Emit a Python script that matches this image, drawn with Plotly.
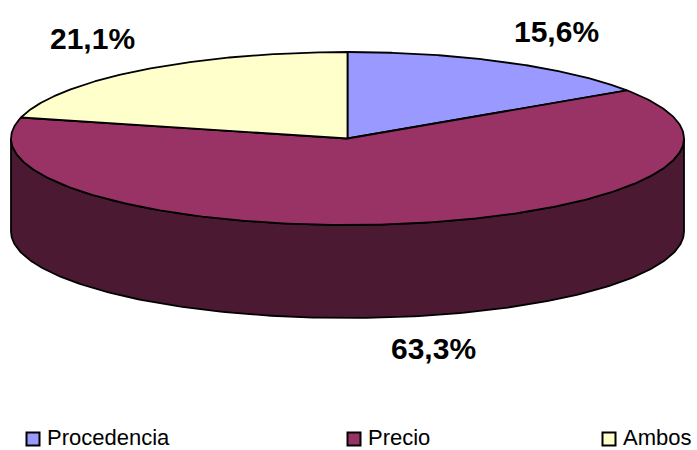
import numpy as np
import plotly.graph_objects as go

# ---- data ----
categories = ["Procedencia", "Precio", "Ambos"]
values = [15.6, 63.3, 21.1]
value_labels = ["15,6%", "63,3%", "21,1%"]

# ---- style ----
colors = ["#9999FF", "#993366", "#FFFFCC"]
W, H = 697, 450
CX, CY = 347.5, 138.5      # centre of top face (pixels)
RX, RY = 336.5, 86.5       # radii of top ellipse
DEPTH = 93                 # thickness of the pie
label_shift = [(51, 31), (28, -32), (-48, 32)]
legend_text_x = [46, 367, 622]
legend_y = 437.5
SQ = 13


def darker(hexcol, f=0.5):
    h = hexcol.lstrip("#")
    r, g, b = (int(h[i:i + 2], 16) for i in (0, 2, 4))
    return "rgb(%d,%d,%d)" % (r * f, g * f, b * f)


def ell(theta_deg, dy=0.0):
    t = np.radians(theta_deg)
    return CX + RX * np.sin(t), CY - RY * np.cos(t) + dy


fig = go.Figure()
total = sum(values)
angles = np.cumsum([0] + [v / total * 360 for v in values])

# side walls (front half, 90..270 deg clockwise from top)
for i, cat in enumerate(categories):
    s0, s1 = max(angles[i], 90), min(angles[i + 1], 270)
    if s1 <= s0:
        continue
    th = np.linspace(s0, s1, 200)
    xt, yt = ell(th)
    xb, yb = ell(th[::-1], DEPTH)
    xs = np.concatenate([xt, xb, xt[:1]])
    ys = np.concatenate([yt, yb, yt[:1]])
    fig.add_trace(go.Scatter(x=xs, y=ys, mode="lines", fill="toself",
                             fillcolor=darker(colors[i]),
                             line=dict(color="black", width=1.8),
                             hoverinfo="skip", showlegend=False))

# top faces
for i, cat in enumerate(categories):
    th = np.linspace(angles[i], angles[i + 1], 300)
    xa, ya = ell(th)
    xs = np.concatenate([[CX], xa, [CX]])
    ys = np.concatenate([[CY], ya, [CY]])
    fig.add_trace(go.Scatter(x=xs, y=ys, mode="lines", fill="toself",
                             fillcolor=colors[i],
                             line=dict(color="black", width=1.8),
                             name=cat, hoverinfo="skip", showlegend=False))

# value labels
for i, cat in enumerate(categories):
    mid = (angles[i] + angles[i + 1]) / 2
    front = np.cos(np.radians(mid)) < 0
    x, y = ell(mid, DEPTH if front else 0)
    fig.add_annotation(x=x, y=y, text=value_labels[i], showarrow=False,
                       xshift=label_shift[i][0], yshift=label_shift[i][1],
                       xanchor="center", yanchor="middle",
                       font=dict(family="Liberation Sans, Arial", size=30,
                                 color="black", weight="bold"))

# legend
for i, cat in enumerate(categories):
    sx = legend_text_x[i] - 13
    fig.add_shape(type="rect", xref="x", yref="y",
                  x0=sx - SQ / 2, x1=sx + SQ / 2,
                  y0=legend_y + 1.5 - SQ / 2, y1=legend_y + 1.5 + SQ / 2,
                  fillcolor=colors[i], line=dict(color="black", width=2))
    fig.add_annotation(x=legend_text_x[i], y=legend_y, text=cat,
                       showarrow=False, xanchor="left", yanchor="middle",
                       borderpad=0,
                       font=dict(family="Liberation Sans, Arial", size=22,
                                 color="black"))

fig.update_layout(
    width=W, height=H, autosize=False,
    margin=dict(l=0, r=0, t=0, b=0, pad=0),
    paper_bgcolor="white", plot_bgcolor="white",
    showlegend=False,
    xaxis=dict(range=[0, W], visible=False, fixedrange=True),
    yaxis=dict(range=[H, 0], visible=False, fixedrange=True),
)

fig.write_html("out.html")
